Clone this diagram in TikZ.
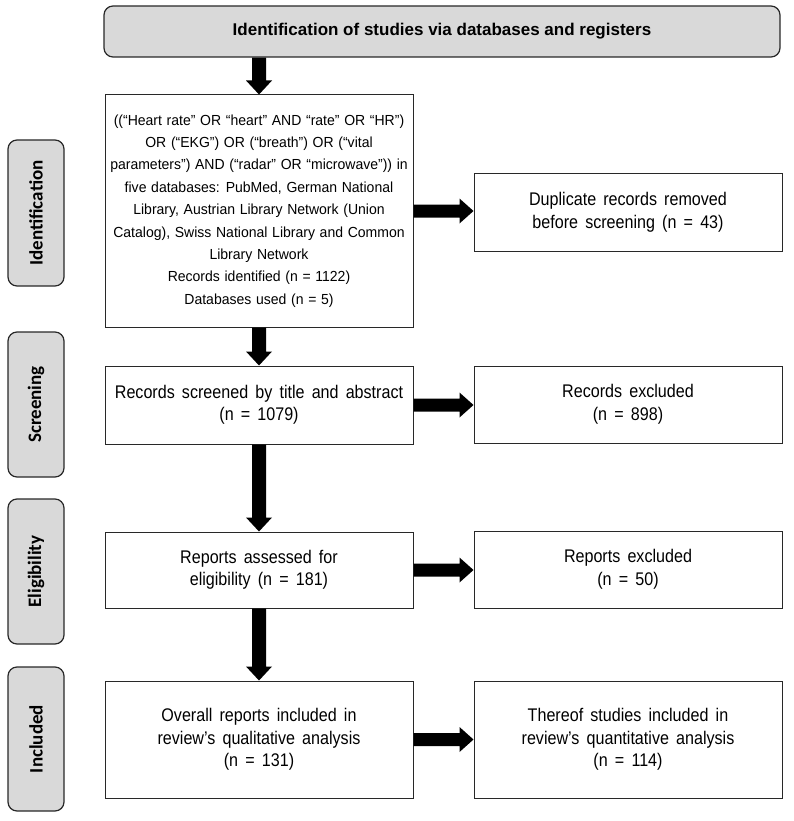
\documentclass[tikz,border=0pt]{standalone}
\usepackage{fontspec}
\setmainfont{Liberation Sans}
\newfontfamily\narrowsans[FakeStretch=0.88,WordSpace=1.6]{Liberation Sans}
\newfontfamily\querysans[FakeStretch=0.96,WordSpace=1.2]{Liberation Sans}
\newfontfamily\calfont{Carlito}
\usetikzlibrary{calc}
\definecolor{phasegray}{RGB}{217,217,217}
\definecolor{edgegray}{RGB}{40,40,40}
\newcommand\vblock[2]{%
  \fill ($(#1)+(-7pt,0)$) -- ($(#2)+(-7pt,14pt)$) -- ($(#2)+(-13pt,14pt)$) -- (#2)
    -- ($(#2)+(13pt,14pt)$) -- ($(#2)+(7pt,14pt)$) -- ($(#1)+(7pt,0)$) -- cycle;}
\newcommand\hblock[2]{%
  \fill ($(#1)+(0,6.5pt)$) -- ($(#2)+(-14pt,6.5pt)$) -- ($(#2)+(-14pt,12.5pt)$) -- (#2)
    -- ($(#2)+(-14pt,-12.5pt)$) -- ($(#2)+(-14pt,-6.5pt)$) -- ($(#1)+(0,-6.5pt)$) -- cycle;}
\begin{document}
\begin{tikzpicture}[
  banner/.style={draw=edgegray, line width=1.2pt, fill=phasegray, rounded corners=9pt,
    minimum width=676pt, minimum height=51pt, inner sep=0pt,
    font=\fontsize{17}{20}\selectfont\bfseries},
  phase/.style={draw=edgegray, line width=1.2pt, fill=phasegray, rounded corners=9pt,
    rotate=90, minimum height=56pt, inner sep=0pt,
    font=\calfont\fontsize{19}{20}\selectfont\bfseries},
  lbox/.style={draw=edgegray, line width=1pt, fill=white, minimum width=308pt,
    inner sep=0pt, align=center, font=\narrowsans\fontsize{18.3}{22.5}\selectfont},
  qbox/.style={lbox, font=\querysans\fontsize{14.6}{22.4}\selectfont}
]
\useasboundingbox (0,0) rectangle (794pt,-821pt);
\fill[white] (0,0) rectangle (794pt,-821pt);

% phase labels
\node[phase, minimum width=146pt] (pid) at (36pt,-213pt) {Identification};
\node[phase, minimum width=145pt] (pscr) at (36pt,-404.5pt) {Screening};
\node[phase, minimum width=145pt] (pel) at (36pt,-571.5pt) {Eligibility};
\node[phase, minimum width=144pt] (pinc) at (36pt,-739pt) {Included};

% banner
\node[banner] (ban) at (442pt,-31.5pt) {Identification of studies via databases and registers};

% left column
\node[qbox, minimum height=232pt] (b1) at (259pt,-211pt)
 {((“Heart rate” OR “heart” AND “rate” OR “HR”)\\
  OR (“EKG”) OR (“breath”) OR (“vital\\
  parameters”) AND (“radar” OR “microwave”)) in\\
  five databases: PubMed, German National\\
  Library, Austrian Library Network (Union\\
  Catalog), Swiss National Library and Common\\
  Library Network\\
  Records identified (n = 1122)\\
  Databases used (n = 5)};
\node[lbox, minimum height=78pt] (scr) at (259pt,-405pt)
 {Records screened by title and abstract\\(n = 1079)};
\node[lbox, minimum height=76pt] (elig) at (259pt,-570pt)
 {Reports assessed for\\eligibility (n = 181)};
\node[lbox, minimum height=117pt] (incl) at (259pt,-739.5pt)
 {Overall reports included in\\review’s qualitative analysis\\(n = 131)};

% right column
\node[lbox, minimum height=77pt] (dup) at (628pt,-212.5pt)
 {Duplicate records removed\\before screening (n = 43)};
\node[lbox, minimum height=77pt] (ex1) at (628pt,-404.5pt)
 {Records excluded\\(n = 898)};
\node[lbox, minimum height=77pt] (ex2) at (628pt,-569.5pt)
 {Reports excluded\\(n = 50)};
\node[lbox, minimum height=117pt] (quant) at (628pt,-739.5pt)
 {Thereof studies included in\\review’s quantitative analysis\\(n = 114)};

% connector end points
\coordinate (v0) at (b1.north |- ban.south);
\coordinate (h1) at (b1.east -| dup.west);
\coordinate (h2) at (scr.east -| ex1.west);
\coordinate (h3) at (elig.east -| ex2.west);
\coordinate (h4) at (incl.east -| quant.west);

% arrows
\vblock{v0}{b1.north}
\vblock{b1.south}{scr.north}
\vblock{scr.south}{elig.north}
\vblock{elig.south}{incl.north}
\hblock{b1.east}{h1}
\hblock{scr.east}{h2}
\hblock{elig.east}{h3}
\hblock{incl.east}{h4}
\end{tikzpicture}
\end{document}
